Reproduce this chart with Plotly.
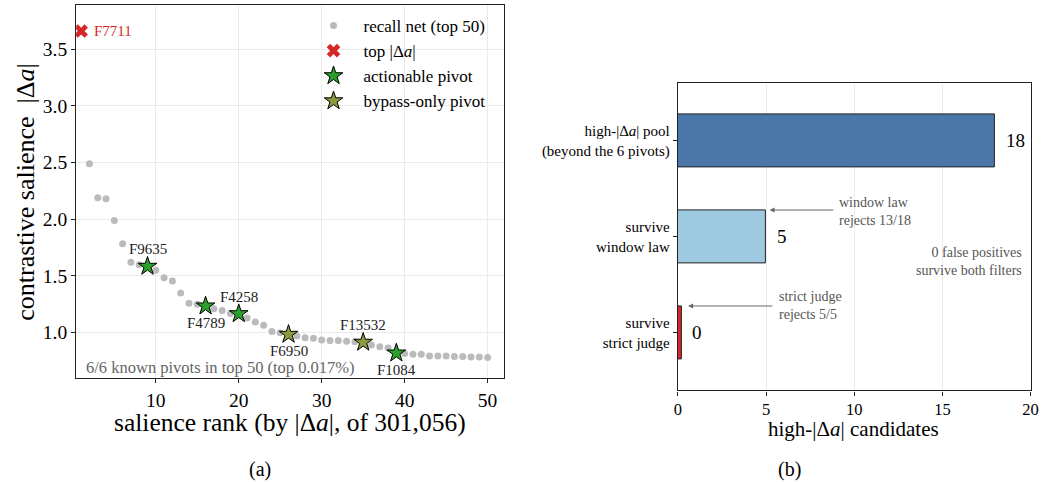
import plotly.graph_objects as go

# ---------------- data: panel (a) ----------------
rank = list(range(1, 51))
salience = [3.66, 2.49, 2.19, 2.18, 1.99, 1.785, 1.62, 1.60, 1.585, 1.55,
            1.485, 1.455, 1.35, 1.26, 1.25, 1.235, 1.21, 1.195, 1.17, 1.167,
            1.13, 1.095, 1.065, 1.01, 1.00, 0.985, 0.97, 0.955, 0.95, 0.935,
            0.93, 0.93, 0.925, 0.92, 0.915, 0.89, 0.875, 0.865, 0.82, 0.815,
            0.81, 0.81, 0.795, 0.795, 0.795, 0.79, 0.79, 0.785, 0.785, 0.78]
top_rank = 1
top_name = "F7711"
act_ranks = [9, 16, 20, 39]
act_names = ["F9635", "F4789", "F4258", "F1084"]
act_label_pos = ["above", "below", "above", "below"]
byp_ranks = [26, 35]
byp_names = ["F6950", "F13532"]
byp_label_pos = ["below", "above"]

# ---------------- data: panel (b) ----------------
bar_labels = ["high-|Δ<i>a</i>| pool<br>(beyond the 6 pivots)",
              "survive<br>window law",
              "survive<br>strict judge"]
bar_counts = [18, 5, 0]
bar_colors = ["#4a76a8", "#9ecae1", "#d62728"]

SERIF = "Liberation Serif"
W, H = 1047, 482

def px_x(p):
    return p / W

def px_y(p):
    return 1 - p / H

fig = go.Figure()

fig.add_trace(go.Scatter(
    x=rank[1:], y=salience[1:], mode="markers", name="recall net (top 50)",
    marker=dict(color="#bbbbbb", size=7, line=dict(width=0)),
    xaxis="x", yaxis="y"))
fig.add_trace(go.Scatter(
    x=[top_rank], y=[salience[top_rank - 1]], mode="markers",
    name="top |Δ<i>a</i>|",
    marker=dict(color="#d62728", size=12, symbol="x", line=dict(width=0)),
    xaxis="x", yaxis="y"))
fig.add_trace(go.Scatter(
    x=act_ranks, y=[salience[r - 1] for r in act_ranks], mode="markers",
    name="actionable pivot",
    marker=dict(color="#2ca02c", size=14, symbol="star",
                line=dict(color="black", width=1)),
    xaxis="x", yaxis="y"))
fig.add_trace(go.Scatter(
    x=byp_ranks, y=[salience[r - 1] for r in byp_ranks], mode="markers",
    name="bypass-only pivot",
    marker=dict(color="#8a9a3c", size=14, symbol="star",
                line=dict(color="black", width=1)),
    xaxis="x", yaxis="y"))

annotations = []
annotations.append(dict(x=top_rank, y=salience[top_rank - 1], xref="x", yref="y",
                        text=top_name, showarrow=False, xanchor="left", yanchor="middle",
                        xshift=11, font=dict(family=SERIF, size=15, color="#d62728")))
for r, n, pos in list(zip(act_ranks, act_names, act_label_pos)) + list(zip(byp_ranks, byp_names, byp_label_pos)):
    annotations.append(dict(x=r, y=salience[r - 1], xref="x", yref="y", text=n,
                            showarrow=False, xanchor="center", yanchor="middle",
                            yshift=17 if pos == "above" else -17,
                            font=dict(family=SERIF, size=15, color="#222")))
annotations.append(dict(x=px_x(81), y=px_y(367), xref="paper", yref="paper",
                        text="6/6 known pivots in top 50 (top 0.017%)", showarrow=False,
                        xanchor="left", yanchor="middle",
                        font=dict(family=SERIF, size=16.5, color="#666")))

drawn = [max(c, 0.2) for c in bar_counts]
fig.add_trace(go.Bar(
    x=drawn, y=list(range(len(bar_counts))), orientation="h",
    marker=dict(color=bar_colors, line=dict(color="#222", width=1)),
    width=0.56, showlegend=False, xaxis="x2", yaxis="y2",
    hoverinfo="skip"))
for i, (c, d) in enumerate(zip(bar_counts, drawn)):
    annotations.append(dict(x=d + 0.5, y=i, xref="x2", yref="y2", text=str(c),
                            showarrow=False, xanchor="left", yanchor="middle",
                            font=dict(family=SERIF, size=19, color="black")))

annotations.append(dict(x=5.2, y=1 - 0.28, xref="x2", yref="y2",
                        ax=8.9, ay=1 - 0.28, axref="x2", ayref="y2",
                        text="", showarrow=True, arrowhead=2, arrowsize=1,
                        arrowwidth=1, arrowcolor="#666"))
annotations.append(dict(x=9.0, y=1 - 0.26, xref="x2", yref="y2",
                        text="window law<br>rejects 13/18", showarrow=False,
                        xanchor="left", align="left", yanchor="middle",
                        font=dict(family=SERIF, size=14, color="#555")))
annotations.append(dict(x=0.58, y=2 - 0.28, xref="x2", yref="y2",
                        ax=5.45, ay=2 - 0.28, axref="x2", ayref="y2",
                        text="", showarrow=True, arrowhead=2, arrowsize=1,
                        arrowwidth=1, arrowcolor="#666"))
annotations.append(dict(x=5.6, y=2 - 0.28, xref="x2", yref="y2",
                        text="strict judge<br>rejects 5/5", showarrow=False,
                        xanchor="left", align="left", yanchor="middle",
                        font=dict(family=SERIF, size=14, color="#555")))
annotations.append(dict(x=px_x(1032), y=px_y(261.5), xref="paper", yref="paper",
                        text="0 false positives<br>survive both filters", showarrow=False,
                        xanchor="right", align="right", yanchor="middle",
                        font=dict(family=SERIF, size=14, color="#555")))

annotations.append(dict(x=px_x(289), y=px_y(422), xref="paper", yref="paper",
                        text="salience rank (by |Δ<i>a</i>|, of 301,056)", showarrow=False,
                        xanchor="center", yanchor="middle",
                        font=dict(family=SERIF, size=25.5, color="black")))
annotations.append(dict(x=px_x(22), y=px_y(192), xref="paper", yref="paper",
                        text="contrastive salience  |Δ<i>a</i>|", showarrow=False,
                        xanchor="center", yanchor="middle",
                        textangle=-90, font=dict(family=SERIF, size=26, color="black")))
annotations.append(dict(x=px_x(859.5), y=px_y(429), xref="paper", yref="paper",
                        text="high-|Δ<i>a</i>| candidates", showarrow=False,
                        xanchor="center", yanchor="middle",
                        font=dict(family=SERIF, size=21, color="black")))
annotations.append(dict(x=px_x(259), y=px_y(469), xref="paper", yref="paper",
                        text="(a)", showarrow=False, xanchor="center", yanchor="middle",
                        font=dict(family=SERIF, size=20, color="black")))
annotations.append(dict(x=px_x(795), y=px_y(469), xref="paper", yref="paper",
                        text="(b)", showarrow=False, xanchor="center", yanchor="middle",
                        font=dict(family=SERIF, size=20, color="black")))

axis_common = dict(showline=True, linecolor="#222", linewidth=1.2, mirror=True,
                   ticks="outside", ticklen=4, tickcolor="#222",
                   gridcolor="#ebebeb", zeroline=False)

fig.update_layout(
    width=W, height=H, margin=dict(l=0, r=0, t=0, b=0),
    paper_bgcolor="white", plot_bgcolor="white",
    font=dict(family=SERIF, color="black"),
    showlegend=True,
    legend=dict(x=px_x(303), y=px_y(8), xanchor="left", yanchor="top",
                bgcolor="rgba(255,255,255,0)", font=dict(family=SERIF, size=17),
                itemsizing="trace", itemwidth=50, tracegroupgap=0),
    xaxis=dict(domain=[px_x(73), px_x(506)], range=[0.4, 52.0],
               tickvals=[10, 20, 30, 40, 50], tickfont=dict(size=19.5),
               showgrid=True, anchor="y", **axis_common),
    yaxis=dict(domain=[px_y(378), px_y(5)], range=[0.6, 3.89],
               tickvals=[1.0, 1.5, 2.0, 2.5, 3.0, 3.5], tickformat=".1f",
               tickfont=dict(size=19.5), showgrid=True, anchor="x", **axis_common),
    xaxis2=dict(domain=[px_x(681.7), px_x(1038.5)], range=[0, 20],
                tickvals=[0, 5, 10, 15, 20], tickfont=dict(size=16.5),
                showgrid=True, anchor="y2", **axis_common),
    yaxis2=dict(domain=[px_y(390.4), px_y(83.4)], range=[2.6, -0.6],
                tickvals=[0, 1, 2], ticktext=bar_labels, tickfont=dict(size=15),
                showgrid=False, anchor="x2", **axis_common),
    annotations=annotations,
    bargap=0,
)

fig.write_html("out.html")
